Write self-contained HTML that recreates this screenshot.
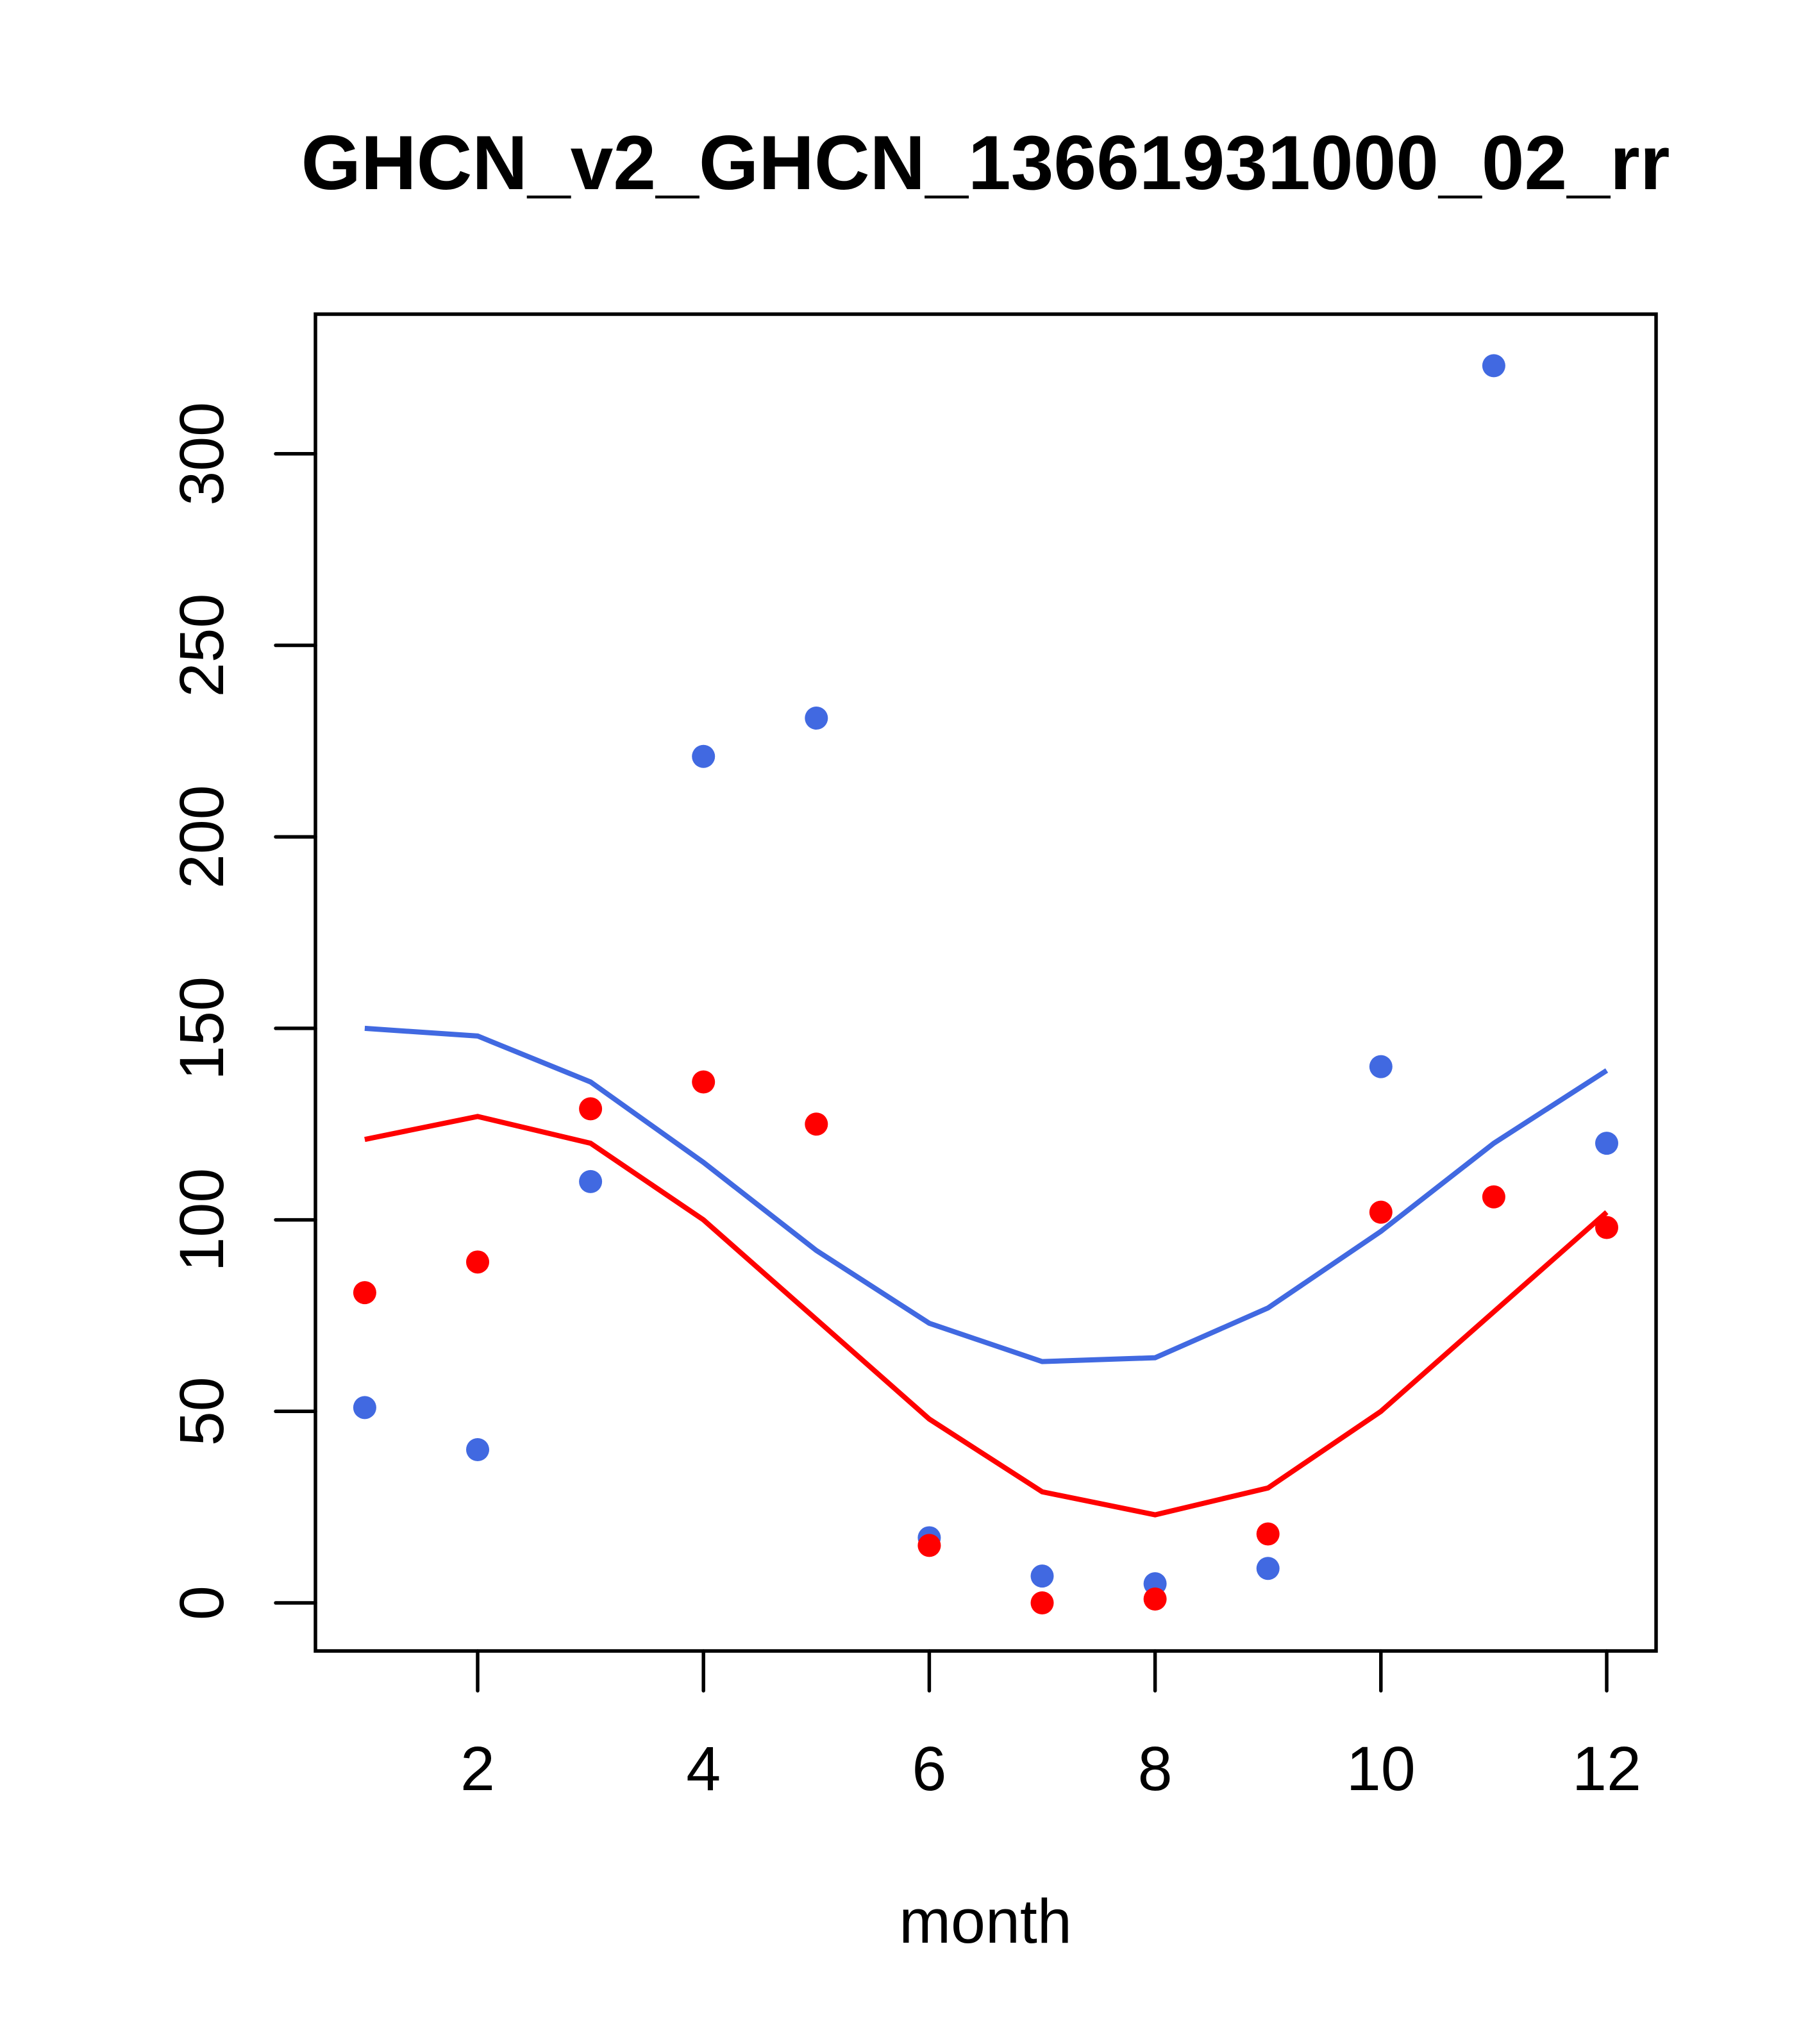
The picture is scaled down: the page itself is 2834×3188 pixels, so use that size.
<!DOCTYPE html>
<html><head><meta charset="utf-8"><style>body{margin:0;background:#fff}svg{display:block}</style></head>
<body>
<svg id="chart" width="2834" height="3188" xmlns="http://www.w3.org/2000/svg" font-family="'Liberation Sans', sans-serif">
<rect width="2834" height="3188" fill="#fff"/>
<text x="1537" y="295" text-anchor="middle" font-size="120" font-weight="bold">GHCN_v2_GHCN_13661931000_02_rr</text>
<rect x="492" y="490" width="2091" height="2085" fill="none" stroke="#000" stroke-width="5.5"/>
<text x="1537" y="3030" text-anchor="middle" font-size="97">month</text>
<g id="axes"></g>
<g id="marks"></g>
</svg>
<script>
const months=[1,2,3,4,5,6,7,8,9,10,11,12];
const bluePoints=[51,40,110,221,231,17,7,5,9,140,323,120];
const redPoints=[81,89,129,136,125,15,0,1,18,102,106,98];
const blueLine=[150,148,136,115,92,73,63,64,77,97,120,139];
const redLine=[121,127,120,100,74,48,29,23,30,50,76,102];
const xTicks=[2,4,6,8,10,12];
const yTicks=[0,50,100,150,200,250,300];
const NS="http://www.w3.org/2000/svg";
function sx(m){return 745+(m-2)*176.1;}
function sy(v){return 2500-v*5.974;}
function mk(t,a){const e=document.createElementNS(NS,t);for(const k in a)e.setAttribute(k,a[k]);return e;}
const axes=document.getElementById('axes'),marks=document.getElementById('marks');
xTicks.forEach(t=>{
 const l=mk('line',{x1:sx(t),x2:sx(t),y1:2575,y2:2637,stroke:'#000','stroke-width':5.5,'stroke-linecap':'round'});
 
 
 axes.appendChild(l);
 const tx=mk('text',{x:sx(t),y:2792,'text-anchor':'middle','font-size':97});
 tx.textContent=t;
 
 
 axes.appendChild(tx);
});
yTicks.forEach(t=>{
 const l=mk('line',{x1:430,x2:492,y1:sy(t),y2:sy(t),stroke:'#000','stroke-width':5.5,'stroke-linecap':'round'});
 
 
 axes.appendChild(l);
 const tx=mk('text',{x:0,y:0,'text-anchor':'middle','font-size':97,transform:`translate(348,${sy(t)}) rotate(-90)`});
 tx.textContent=t;
 
 
 axes.appendChild(tx);
});
function line(vals,col,name){
 const p=mk('polyline',{points:vals.map((v,i)=>sx(months[i])+','+sy(v)).join(' '),fill:'none',stroke:col,'stroke-width':8});
 
 
 marks.appendChild(p);
}
function pts(vals,col,name){
 vals.forEach((v,i)=>{
  const c=mk('circle',{cx:sx(months[i]),cy:sy(v),r:18,fill:col});
  
  
  marks.appendChild(c);
 });
}
line(blueLine,'#4169E1','blue-line');
line(redLine,'#FF0000','red-line');
pts(bluePoints,'#4169E1','blue-point');
pts(redPoints,'#FF0000','red-point');
</script>
</body></html>
